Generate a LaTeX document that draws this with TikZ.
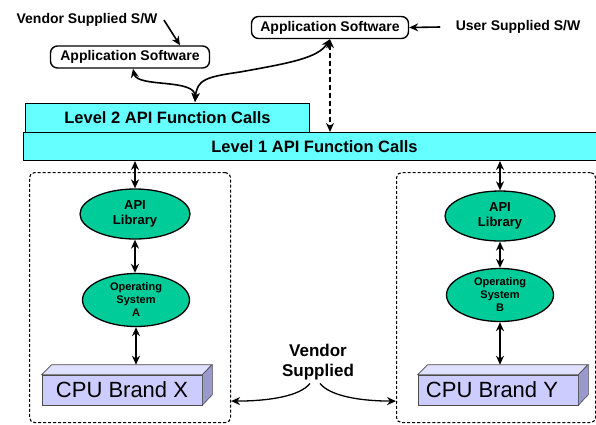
\documentclass[tikz,border=0pt]{standalone}
\usepackage{fontspec}
\setmainfont{Liberation Sans}
\usetikzlibrary{arrows.meta,calc,shapes.geometric}
\definecolor{barcyan}{RGB}{102,255,255}
\definecolor{libgreen}{RGB}{0,204,153}
\definecolor{cpufront}{RGB}{204,204,255}
\definecolor{cputop}{RGB}{224,224,255}
\definecolor{cpuside}{RGB}{153,153,204}

\begin{document}
\begin{tikzpicture}[x=1pt,y=-1pt,
  bar/.style={draw,line width=1pt,fill=barcyan,inner sep=0pt,font=\fontsize{16.5}{18}\selectfont\bfseries},
  appbox/.style={draw,line width=1.4pt,rounded corners=7pt,inner sep=0pt,minimum height=22pt,font=\fontsize{14}{16}\selectfont\bfseries},
  lib/.style={ellipse,draw,line width=1.3pt,fill=libgreen,inner sep=0pt,minimum width=110pt,minimum height=50pt,align=center,font=\fontsize{13}{15}\selectfont\bfseries},
  os/.style={lib,minimum width=107pt,minimum height=53pt,font=\fontsize{11}{13}\selectfont\bfseries},
  cpu/.style={draw=black!70,line width=0.6pt,fill=cpufront,minimum width=160pt,minimum height=30pt,inner sep=0pt,font=\fontsize{22}{24}\selectfont},
  group/.style={draw,dash pattern=on 3pt off 2pt,line width=1.1pt,rounded corners=5pt,inner sep=0pt},
  swtext/.style={font=\fontsize{14}{16}\selectfont\bfseries},
  link/.style={line width=1.6pt,{Stealth[length=9pt,width=8pt]}-{Stealth[length=9pt,width=8pt]}},
  pointer/.style={line width=1.6pt,-{Stealth[length=9pt,width=8pt]}}
]
  \useasboundingbox (0,0) rectangle (596,424);
  \clip (0,0) rectangle (596,424);

  \node[bar,anchor=north west,minimum width=284pt,minimum height=29pt] (lvltwo) at (25,103) {Level 2 API Function Calls};
  \node[bar,anchor=north west,minimum width=582pt,minimum height=28pt] (lvlone) at (23,132) {Level 1 API Function Calls};

  \node[group,anchor=north west,minimum width=201pt,minimum height=250pt] (grpA) at (29,172) {};
  \node[group,anchor=north west,minimum width=199pt,minimum height=250pt] (grpB) at (396,172) {};

  \node[lib] (libA) at (135,214) {API\\Library};
  \node[os] (osA) at (136,300) {Operating\\System\\A};
  \node[lib] (libB) at (500,216) {API\\Library};
  \node[os] (osB) at (500,295) {Operating\\System\\B};

  \node[cpu] (cpuX) at (122,390) {CPU Brand X};
  \node[cpu] (cpuY) at (498,390) {\hspace*{-12pt}CPU Brand Y};
  \foreach \c in {cpuX,cpuY} {
    \draw[draw=black!70,line width=0.6pt,fill=cputop] (\c.north west) -- ++(10,-10) -- ++(160,0) -- (\c.north east) -- cycle;
    \draw[draw=black!70,line width=0.6pt,fill=cpuside] (\c.north east) -- ++(10,-10) -- ++(0,30) -- (\c.south east) -- cycle;
    \coordinate (\c top) at ($(\c.north)+(0,-10)$);
  }

  \draw[link] (libA.north |- lvlone.south) -- (libA.north);
  \draw[link] (libA.south) -- (libA.south |- osA.north);
  \draw[link] (osA.south) -- (osA.south |- cpuXtop);
  \draw[link] (libB.north |- lvlone.south) -- (libB.north);
  \draw[link] (libB.south) -- (libB.south |- osB.north);
  \draw[link] (osB.south) -- (osB.south |- cpuYtop);

  \node[swtext] (vendorsw) at (87,20) {Vendor Supplied S/W};
  \node[swtext] (usersw) at (518,27) {User Supplied S/W};
  \node[appbox,minimum width=159pt] (appL) at (130,57) {Application Software};
  \node[appbox,minimum width=157pt] (appR) at (330,27.5) {Application Software};

  \draw[pointer] ([xshift=3pt]vendorsw.east) -- ([xshift=50pt]appL.north);
  \draw[pointer] ([xshift=-12pt]usersw.west) -- (appR.east);

  \coordinate (meet) at (195,102);
  \draw[link] ([xshift=3pt]appL.south) .. controls (137,88) and (196,78) .. (meet);
  \draw[link] (meet) .. controls (197,80) and (205,77) .. (240,72) .. controls (290,63) and (318,58) .. (appR.south);
  \draw[link,dash pattern=on 5pt off 3pt] (appR.south) -- (appR.south |- lvlone.north);

  \node[align=center,font=\fontsize{17}{20}\selectfont\bfseries] (vendor) at (318,362) {Vendor\\Supplied};
  \draw[pointer,line width=1.3pt] ([xshift=-8pt]vendor.south) .. controls (300,396) and (270,401) .. ([yshift=22pt]grpA.south east);
  \draw[pointer,line width=1.3pt] ([xshift=2pt]vendor.south) .. controls (330,396) and (360,401) .. ([yshift=22pt]grpB.south west);
\end{tikzpicture}
\end{document}
